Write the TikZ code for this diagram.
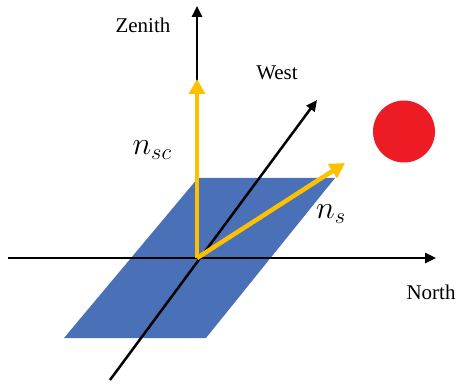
\RequirePackage{fix-cm}
\documentclass[tikz,border=0pt]{standalone}
\usepackage{fontspec}
\setmainfont{Liberation Serif}
\usepackage{tikz}
\usetikzlibrary{arrows.meta,positioning,calc}
\definecolor{cPlane}{HTML}{4A70B8}
\definecolor{cNormal}{HTML}{FFC000}
\definecolor{cSun}{HTML}{ED1C24}
\tikzset{
  every picture/.style={x=1pt, y=1pt},
  sAxis/.style={line width=2.5pt, -{Triangle[length=11pt, width=10pt]}},
  sNormal/.style={cNormal, line width=4.5pt, -{Triangle[length=15pt, width=16pt]}},
  sPlane/.style={fill=cPlane, draw=none},
  sSun/.style={circle, fill=cSun, minimum size=62pt, inner sep=0pt},
  sLabel/.style={font=\fontsize{21}{25}\selectfont, inner sep=0pt},
  sMath/.style={font=\fontsize{32}{38}\selectfont, inner sep=0pt},
}

\begin{document}
\begin{tikzpicture}
\useasboundingbox (0,0) rectangle (457,383);
\coordinate (o) at (197,125);
\coordinate (pA) at (64,45); \coordinate (pB) at (206,45); \coordinate (pC) at (335,205); \coordinate (pD) at (198,205);
\coordinate (nS) at (8,125); \coordinate (nE) at (436,125);
\coordinate (zE) at (197,377);
\coordinate (wS) at (110,3); \coordinate (wE) at (317,283);
\coordinate (nscE) at (197,304); \coordinate (nsE) at (345,220);
% ground plane
\fill[sPlane] (pA) -- (pB) -- (pC) -- (pD) -- cycle;
% axes
\draw[sAxis] (nS) -- (nE);
\draw[sAxis] (o) -- (zE);
\draw[sAxis] (wS) -- (wE);
% normal vectors
\draw[sNormal] (o) -- (nscE);
\draw[sNormal] (o) -- (nsE);
\node[sSun] (sun) at (404,251.5) {};
\node[sLabel] (zenith) at (143,358) {Zenith};
\node[sLabel] (west) at (277,310) {West};
\node[sLabel] (north) at (431,91) {North};
\node[sMath] (nsc) at (152,233) {$n_{sc}$};
\node[sMath] (ns) at (331,169) {$n_{s}$};
\end{tikzpicture}
\end{document}
